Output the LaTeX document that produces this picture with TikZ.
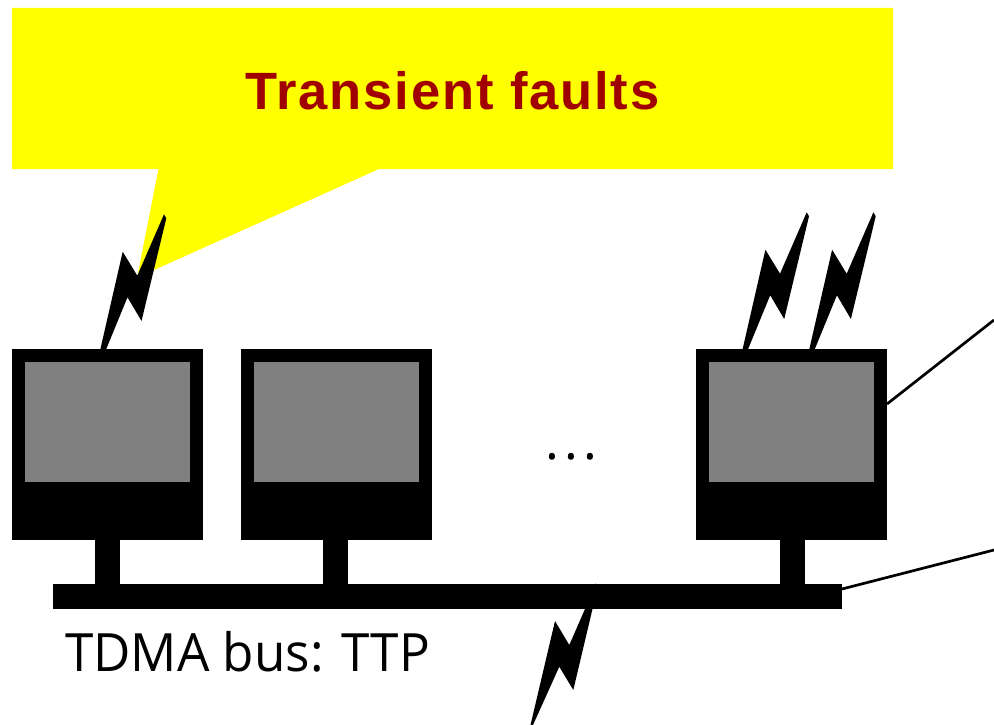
\documentclass[tikz,border=0pt]{standalone}
\usepackage{fontspec}
\setmainfont{Liberation Sans}
\newfontfamily\titlefont[LetterSpace=3.5]{Liberation Sans}
\newfontfamily\labelfont{Open Sans}
\newfontfamily\dotsfont[LetterSpace=10]{Open Sans}
\definecolor{titlered}{RGB}{160,0,0}
\definecolor{screen}{RGB}{128,128,128}
\definecolor{callout}{RGB}{255,255,0}
\tikzset{
  box/.style={draw=none,inner sep=0pt,outer sep=0pt,minimum width=191pt,minimum height=191pt,fill=black},
  scr/.style={draw=none,inner sep=0pt,outer sep=0pt,minimum width=165.5pt,minimum height=120pt,fill=screen},
  stem/.style={draw=none,inner sep=0pt,outer sep=0pt,minimum width=25pt,minimum height=44pt,fill=black},
  busbar/.style={draw=none,inner sep=0pt,outer sep=0pt,minimum width=789pt,minimum height=25pt,fill=black},
  bolt/.style={fill=black,draw=none},
  link/.style={draw=black,line width=2.7pt},
}
\begin{document}
\begin{tikzpicture}[x=1pt,y=-1pt]
\useasboundingbox (0,0) rectangle (994,725);
% callout
\fill[callout] (12,8) -- (893,8) -- (893,169) -- (379,169) -- (154,270) -- (137,278) -- (158.5,169) -- (12,169) -- cycle;
\node[inner sep=0pt,anchor=base] (title) at (452.5,109.3) {\titlefont\bfseries\color{titlered}\fontsize{52.5}{60}\selectfont Transient faults};
% monitors
\node[box] (m1) at (107.5,444.5) {};
\node[box] (m2) at (336.5,444.5) {};
\node[box] (m3) at (791.5,444.5) {};
\node[scr] (s1) at (107.25,422) {};
\node[scr] (s2) at (336.25,422) {};
\node[scr] (s3) at (791.25,422) {};
% bus and stems
\node[busbar] (bus) at (447.5,596.5) {};
\node[stem] (t1) at (107.5,562) {};
\node[stem] (t2) at (335.5,562) {};
\node[stem] (t3) at (792,562) {};
% bolts
\foreach \dx/\dy in {0/0,642.7/-2,709.4/-2}{
  \fill[bolt,shift={(\dx pt,-\dy pt)}] (164,214.3) -- (166.3,218.3) -- (141.5,321) -- (127.5,297.3) -- (104.6,353) -- (99.5,353) -- (122.7,251.7) -- (137.3,275.7) -- cycle;
}
\fill[bolt] (596,583) -- (592.5,609) -- (573.3,690) -- (559.3,666.7) -- (533,725) -- (530.5,725) -- (555,621) -- (569.3,645) -- (585,609) -- cycle;
% connectors
\coordinate (c1) at (994,320);
\coordinate (c2) at (994,550);
\draw[link] (m3.east |- 0,404) -- (c1);
\draw[link] (bus.east |- 0,589) -- (c2);
% texts
\node[inner sep=0pt,anchor=base] (dots) at (571,459) {\dotsfont\fontsize{52}{60}\selectfont ...};
\node[inner sep=0pt,anchor=base west,xscale=0.97] (lbl) at (65,671) {\labelfont\fontsize{52.8}{60}\selectfont TDMA bus: TTP};
\end{tikzpicture}
\end{document}
